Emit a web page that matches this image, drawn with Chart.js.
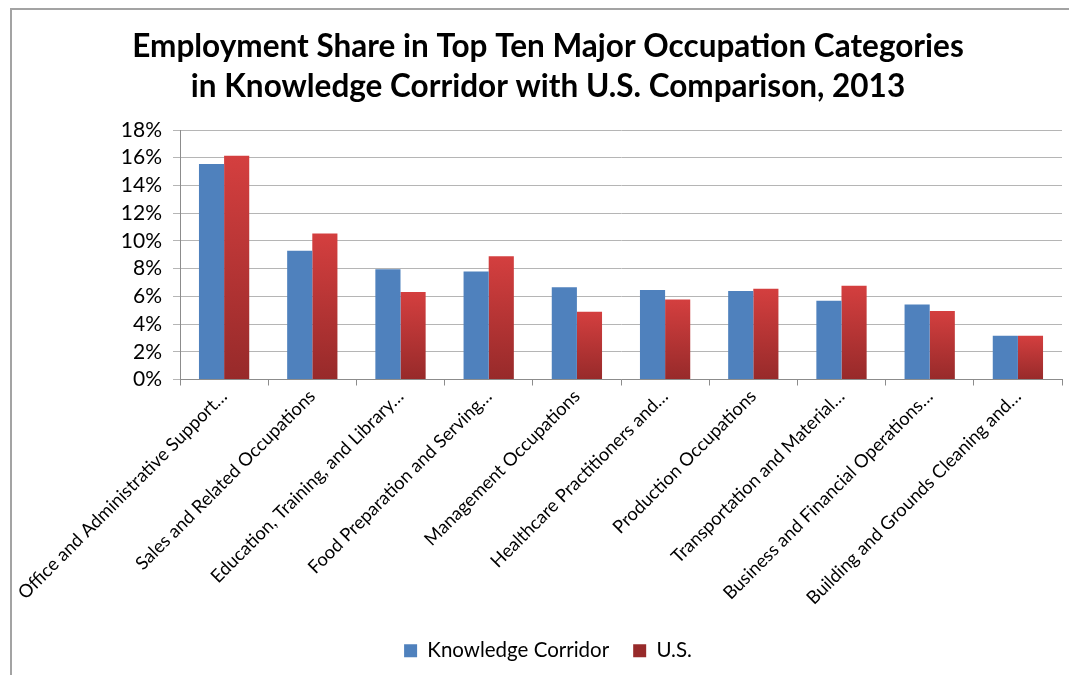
<!DOCTYPE html>
<html>
<head>
<meta charset="utf-8">
<title>Employment Share in Top Ten Major Occupation Categories</title>
<script src="https://cdn.jsdelivr.net/npm/chart.js@4.4.1/dist/chart.umd.min.js"></script>
<style>
  html, body { margin: 0; padding: 0; background: #fff; }
  #wrap { position: relative; width: 1069px; height: 675px; overflow: hidden; }
  #frame {
    position: absolute; left: 10px; top: 8px; right: 0; bottom: 0;
    border-left: 2px solid #a3a3a3; border-top: 2px solid #a3a3a3;
    pointer-events: none;
  }
  canvas { position: absolute; left: 0; top: 0; }
</style>
</head>
<body>
<div id="wrap">
  <canvas id="chart-occupations" width="1069" height="675"></canvas>
  <div id="frame"></div>
</div>
<script>
// Occupation groups, in the order shown on the x axis
const categories = [
    'Office and Administrative Support…',
    'Sales and Related Occupations',
    'Education, Training, and Library…',
    'Food Preparation and Serving…',
    'Management Occupations',
    'Healthcare Practitioners and…',
    'Production Occupations',
    'Transportation and Material…',
    'Business and Financial Operations…',
    'Building and Grounds Cleaning and…'
];

// Share of total employment, percent
const corridorShare = [15.55, 9.28, 7.95, 7.8, 6.65, 6.45, 6.38, 5.69, 5.42, 3.15];
const usShare = [16.15, 10.53, 6.31, 8.9, 4.89, 5.78, 6.55, 6.77, 4.94, 3.15];

const yTicks = [0, 2, 4, 6, 8, 10, 12, 14, 16, 18];

const FONT = 'Lato, "Open Sans", sans-serif';

// Red bars fade from a bright top to a darker base, per bar
function redGradient(ctx) {
    if (ctx.type !== 'data') return '#b83232';
    const chart = ctx.chart;
    const y = chart.scales.y;
    if (!y || !chart.chartArea) return '#b83232';
    const top = y.getPixelForValue(ctx.parsed.y);
    const bottom = y.getPixelForValue(0);
    const g = chart.ctx.createLinearGradient(0, top, 0, bottom);
    g.addColorStop(0, '#d43f3f');
    g.addColorStop(1, '#972a2a');
    return g;
}

const chart = new Chart(document.getElementById('chart-occupations'), {
    type: 'bar',
    data: {
        labels: categories,
        datasets: [
            { label: 'Knowledge Corridor', data: corridorShare, backgroundColor: '#4f81bd',
              categoryPercentage: 0.57, barPercentage: 1.0 },
            { label: 'U.S.', data: usShare, backgroundColor: redGradient,
              categoryPercentage: 0.57, barPercentage: 1.0 }
        ]
    },
    options: {
        responsive: false,
        animation: false,
        layout: { padding: { left: 34, right: 7, top: 0, bottom: 4 } },
        plugins: {
            title: {
                display: true,
                text: ['Employment Share in Top Ten Major Occupation Categories',
                       'in Knowledge Corridor with U.S. Comparison, 2013'],
                color: '#000',
                font: { family: FONT, size: 31.5, weight: 'bold', lineHeight: 1.27 },
                padding: { top: 27, bottom: 23 }
            },
            legend: {
                position: 'bottom',
                labels: {
                    color: '#000',
                    font: { family: FONT, size: 20.5 },
                    boxWidth: 13, boxHeight: 13, padding: 24
                }
            },
            tooltip: { enabled: false }
        },
        scales: {
            x: {
                grid: { display: true, drawOnChartArea: false, offset: true,
                        tickLength: 6, color: '#8c8c8c' },
                border: { color: '#8c8c8c' },
                ticks: { color: '#000', font: { family: FONT, size: 18.3 },
                         maxRotation: 45, minRotation: 45, autoSkip: false, padding: 0 },
                afterFit: scale => { scale.height = 237; }
            },
            y: {
                min: 0, max: 18,
                afterBuildTicks: scale => { scale.ticks = yTicks.map(v => ({ value: v })); },
                afterFit: scale => { scale.width = 146; },
                grid: { color: '#b5b5b5', tickLength: 7 },
                border: { color: '#8c8c8c' },
                ticks: { color: '#000', font: { family: FONT, size: 21 }, padding: 11,
                         autoSkip: false, callback: v => v + '%' }
            }
        }
    }
});
</script>
</body>
</html>
